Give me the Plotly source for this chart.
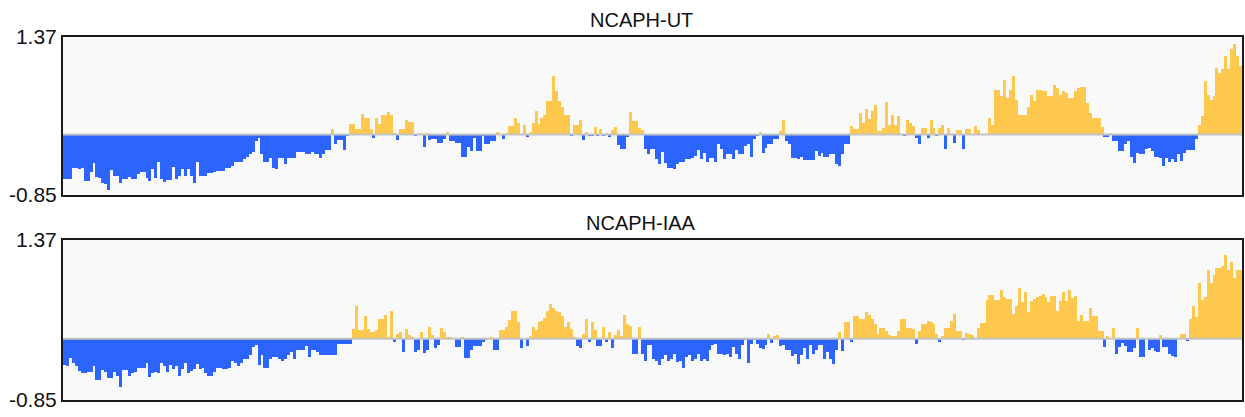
import plotly.graph_objects as go

# ---- data ----
track_titles = ["NCAPH-UT", "NCAPH-IAA"]
y_min, y_max = -0.85, 1.37
tick_labels = ["-0.85", "1.37"]

ut_values = [
    -0.62, -0.62, -0.62, -0.47, -0.47, -0.48, -0.47, -0.66, -0.66, -0.53,
    -0.40, -0.60, -0.61, -0.68, -0.70, -0.78, -0.50, -0.58, -0.58, -0.68,
    -0.63, -0.63, -0.59, -0.63, -0.63, -0.55, -0.53, -0.53, -0.61, -0.66,
    -0.49, -0.61, -0.38, -0.62, -0.67, -0.64, -0.64, -0.45, -0.63, -0.58,
    -0.49, -0.58, -0.48, -0.58, -0.68, -0.38, -0.58, -0.58, -0.58, -0.54,
    -0.54, -0.53, -0.51, -0.51, -0.51, -0.47, -0.47, -0.44, -0.39, -0.39,
    -0.39, -0.34, -0.31, -0.28, -0.25, -0.09, -0.05,
    -0.28, -0.38, -0.38, -0.33, -0.47, -0.48, -0.33, -0.33, -0.42, -0.33,
    -0.33, -0.33, -0.25, -0.25, -0.25, -0.28, -0.28, -0.25, -0.28, -0.28,
    -0.33, -0.28, -0.22, -0.22, 0.08, -0.13, -0.08, -0.08, -0.22, -0.01,
    0.15, 0.15, 0.08, 0.08, 0.29, 0.23, 0.23, 0.08, -0.05, 0.23,
    0.15, 0.27, 0.27, 0.31, 0.28, 0.01, -0.08, 0.08, 0.08, 0.20,
    0.17, 0.17, -0.01, 0.02, 0.02, -0.17, 0.02, -0.08, -0.07, -0.07,
    -0.12, -0.12, -0.07, 0.04, -0.09, -0.09,
    -0.12,
    -0.12, -0.31, -0.31, -0.17, -0.23, -0.05, -0.23, -0.23, -0.02, -0.14,
    -0.14, -0.09, -0.09, 0.04, 0.005, -0.07, 0.02, 0.12, 0.12, 0.23,
    0.16, 0.005, 0.13, -0.04, 0.03, 0.16, 0.33, 0.15, 0.23, 0.28,
    0.47, 0.47, 0.82, 0.61, 0.47, 0.38, 0.28, 0.28, -0.02, 0.14,
    0.14, 0.21, -0.08, 0.03, -0.02, -0.02, 0.10, -0.02, 0.08, -0.02,
    0.02, -0.03, 0.07, 0.10, -0.15, -0.21, -0.21, -0.04, 0.31, 0.19,
    0.19, 0.09, 0.07, -0.21, -0.27,
    -0.21, -0.21, -0.35, -0.41, -0.25, -0.40, -0.47, -0.47, -0.49, -0.42,
    -0.38, -0.38, -0.35, -0.35, -0.33, -0.30, -0.22, -0.35, -0.26, -0.38,
    -0.33, -0.33, -0.38, -0.13, -0.21, -0.35, -0.28, -0.28, -0.34, -0.22,
    -0.28, -0.28, -0.16, -0.13, -0.31, -0.07, -0.02, 0.03, -0.26, -0.19,
    -0.14, -0.14, -0.06, -0.06, 0.05, 0.20, -0.09, -0.14, -0.33, -0.33,
    -0.34, -0.31, -0.36, -0.36, -0.36, -0.36, -0.23, -0.30, -0.26, -0.31,
    -0.31, -0.28, -0.28, -0.42, -0.44, -0.27, -0.14,
    -0.14, 0.12, 0.08, 0.08, 0.30, 0.16, 0.36, 0.22, 0.33, 0.42,
    0.05, 0.05, 0.09, 0.46, 0.13, 0.27, 0.13, 0.26, 0.005, -0.02,
    0.20, 0.16, 0.12, -0.05, -0.13, 0.09, 0.09, -0.05, 0.21, 0.09,
    -0.02, 0.09, 0.14, -0.20, 0.09, 0.005, -0.12, 0.06, 0.06, -0.20,
    0.08, 0.08, 0.005, 0.12, 0.06, 0.005, -0.005, 0.005, 0.23, 0.14,
    0.63, 0.63, 0.54, 0.77, 0.52, 0.63, 0.82, 0.49, 0.27, 0.27,
    0.27, 0.39, 0.55, 0.47, 0.63, 0.63,
    0.61, 0.61, 0.54, 0.54, 0.69, 0.66, 0.56, 0.61, 0.59, 0.52,
    0.52, 0.61, 0.66, 0.67, 0.67, 0.44, 0.30, 0.23, 0.23, 0.23,
    0.11, -0.04, -0.04, 0.02, -0.09, -0.09, -0.23, -0.23, -0.14, -0.09,
    -0.31, -0.40, -0.26, -0.28, -0.28, -0.21, -0.19, -0.23, -0.31, -0.31,
    -0.33, -0.44, -0.33, -0.38, -0.35, -0.38, -0.27, -0.37, -0.26, -0.22,
    -0.22, -0.22, -0.07, 0.14, 0.26, 0.75, 0.56, 0.49, 0.54, 0.94,
    0.87, 0.92, 1.10, 0.92, 1.20, 1.27, 1.10, 0.96,
]

iaa_values = [
    -0.37, -0.38, -0.27, -0.34, -0.38, -0.45, -0.48, -0.48, -0.46, -0.46,
    -0.38, -0.57, -0.57, -0.43, -0.46, -0.54, -0.54, -0.46, -0.52, -0.67,
    -0.43, -0.43, -0.52, -0.47, -0.46, -0.41, -0.40, -0.40, -0.33, -0.53,
    -0.47, -0.46, -0.47, -0.34, -0.38, -0.46, -0.37, -0.42, -0.38, -0.52,
    -0.42, -0.33, -0.48, -0.45, -0.42, -0.35, -0.42, -0.40, -0.47, -0.52,
    -0.52, -0.46, -0.40, -0.41, -0.42, -0.42, -0.41, -0.31, -0.33, -0.38,
    -0.34, -0.28, -0.28, -0.23, -0.12, -0.09, -0.37,
    -0.22, -0.40, -0.40, -0.28, -0.26, -0.26, -0.28, -0.31, -0.28, -0.23,
    -0.18, -0.28, -0.16, -0.16, -0.16, -0.10, -0.26, -0.16, -0.16, -0.19,
    -0.23, -0.23, -0.23, -0.23, -0.23, -0.23, -0.07, -0.07, -0.07, -0.07,
    -0.07, 0.13, 0.46, 0.12, 0.12, 0.31, 0.13, 0.10, 0.10, 0.12,
    0.27, 0.27, 0.33, 0.02, 0.38, -0.04, 0.07, 0.09, -0.18, 0.13,
    0.05, 0.02, -0.18, -0.16, 0.09, -0.20, -0.15, 0.16, 0.05, -0.13,
    -0.08, 0.15, 0.09, 0.02, 0.02, 0.005,
    -0.12,
    -0.12, 0.02, -0.27, -0.27, -0.16, -0.10, -0.10, -0.10, -0.05, -0.02,
    0.01, 0.02, -0.16, -0.16, 0.12, 0.12, 0.16, 0.26, 0.38, 0.38,
    0.23, -0.13, 0.005, -0.10, 0.04, 0.16, 0.12, 0.23, 0.24, 0.29,
    0.38, 0.48, 0.43, 0.38, 0.37, 0.31, 0.16, 0.23, 0.13, 0.02,
    -0.10, -0.13, 0.07, 0.28, -0.04, 0.23, 0.12, -0.10, -0.10, 0.16,
    -0.04, 0.09, -0.13, 0.05, 0.12, 0.04, 0.33, 0.21, 0.18, -0.21,
    -0.21, 0.16, -0.21, -0.31, -0.09,
    -0.09, -0.28, -0.31, -0.37, -0.28, -0.23, -0.31, -0.28, -0.21, -0.32,
    -0.31, -0.41, -0.26, -0.23, -0.31, -0.28, -0.21, -0.31, -0.28, -0.31,
    -0.16, -0.08, -0.07, -0.21, -0.21, -0.23, -0.21, -0.26, -0.12, -0.21,
    -0.28, -0.09, -0.02, -0.33, -0.07, -0.02, -0.07, -0.13, -0.14, -0.08,
    0.07, -0.06, 0.04, 0.05, -0.10, -0.08, -0.16, -0.16, -0.24, -0.21,
    -0.35, -0.23, -0.13, -0.28, -0.09, -0.21, -0.16, -0.09, -0.08, -0.28,
    -0.18, -0.28, -0.35, -0.16, 0.10, -0.17, 0.23,
    0.23, -0.04, 0.32, 0.32, 0.27, 0.27, 0.37, 0.33, 0.27, 0.21,
    0.07, 0.15, 0.15, 0.11, 0.05, 0.04, 0.04, 0.11, 0.27, 0.27,
    0.15, 0.15, 0.13, -0.07, 0.11, 0.20, 0.20, 0.25, 0.23, 0.20,
    0.06, -0.04, 0.04, 0.15, 0.15, 0.25, 0.35, 0.11, 0.11, -0.02,
    0.08, 0.06, 0.05, 0.005, 0.15, 0.22, 0.22, 0.54, 0.61, 0.61,
    0.54, 0.54, 0.67, 0.58, 0.55, 0.55, 0.34, 0.46, 0.71, 0.51,
    0.65, 0.37, 0.52, 0.55, 0.58, 0.59, 0.62, 0.58, 0.51, 0.59,
    0.59, 0.39, 0.53, 0.65, 0.53, 0.67, 0.57, 0.59, 0.25, 0.33,
    0.24, 0.24, 0.43, 0.31, 0.31, 0.11, 0.11, -0.12, 0.04, 0.005,
    0.15, -0.21, -0.12, -0.06, -0.10, -0.18, -0.18, -0.13, 0.15, -0.26,
    -0.26, 0.01, -0.15, -0.13, -0.17, -0.18, 0.05, -0.11, -0.12, -0.21,
    -0.24, -0.26, 0.005, 0.07, 0.06, -0.03, 0.27, 0.45, 0.30, 0.77,
    0.54, 0.58, 0.95, 0.77, 0.88, 0.98, 0.98, 1.01, 1.16, 0.95,
    1.07, 0.84, 0.95, 0.96,
]

bins = list(range(len(ut_values)))

# ---- styling ----
POS_COLOR = "#fdc84d"
NEG_COLOR = "#2e64fe"
FONT = "Liberation Sans, Arial, Helvetica, sans-serif"

fig = go.Figure()

tracks = [ut_values, iaa_values]
axis_ids = [("x", "y"), ("x2", "y2")]
for vals, (xa, ya) in zip(tracks, axis_ids):
    colors = [POS_COLOR if v >= 0 else NEG_COLOR for v in vals]
    fig.add_trace(go.Bar(
        x=bins, y=vals, xaxis=xa, yaxis=ya,
        marker=dict(color=colors, line=dict(width=0)),
        width=1.02, showlegend=False, hoverinfo="y",
    ))

W, H = 1245, 417
m_l, m_r, m_t, m_b = 63, 3, 37, 17
plot_h = H - m_t - m_b
top_dom = [(400 - 195) / plot_h, 1.0]
bot_dom = [0.0, (400 - 240) / plot_h]

common_x = dict(range=[-0.5, len(bins) - 0.5], showticklabels=False, ticks="",
                showgrid=False, zeroline=False, showline=True, mirror=True,
                linecolor="#1a1a1a", linewidth=2, fixedrange=True, automargin=False)
common_y = dict(range=[y_min, y_max], tickvals=[y_min, y_max], ticktext=tick_labels,
                ticks="", showgrid=False, zeroline=False, showline=True, mirror=True,
                linecolor="#1a1a1a", linewidth=2, automargin=False,
                tickfont=dict(size=21, color="#111111", family=FONT))

fig.update_layout(
    width=W, height=H, autosize=False,
    margin=dict(l=m_l, r=m_r, t=m_t, b=m_b, autoexpand=False),
    paper_bgcolor="white", plot_bgcolor="#f9f9f9",
    bargap=0, barmode="overlay",
    font=dict(family=FONT, size=20, color="#111111"),
    xaxis=dict(domain=[0, 1], anchor="y", **common_x),
    yaxis=dict(domain=top_dom, anchor="x", **common_y),
    xaxis2=dict(domain=[0, 1], anchor="y2", **common_x),
    yaxis2=dict(domain=bot_dom, anchor="x2", **common_y),
)

# zero baselines, drawn above the bars
for xa, ya in axis_ids:
    fig.add_shape(type="line", xref=f"{xa} domain", yref=ya, x0=0, x1=1, y0=0, y1=0,
                  line=dict(color="#c4c4c4", width=2), layer="above")

title_x = (641 - m_l) / (W - m_l - m_r)
for title, y_px in zip(track_titles, [20, 223]):
    fig.add_annotation(text=title, xref="paper", yref="paper",
                       x=title_x, y=(H - m_b - y_px) / plot_h,
                       xanchor="center", yanchor="middle", showarrow=False,
                       font=dict(size=20, color="#111111", family=FONT))

fig.write_html(
    "out.html",
    config={"responsive": False, "displayModeBar": False},
    default_width=f"{W}px", default_height=f"{H}px",
    post_script="document.body.style.margin='0px';",
)
